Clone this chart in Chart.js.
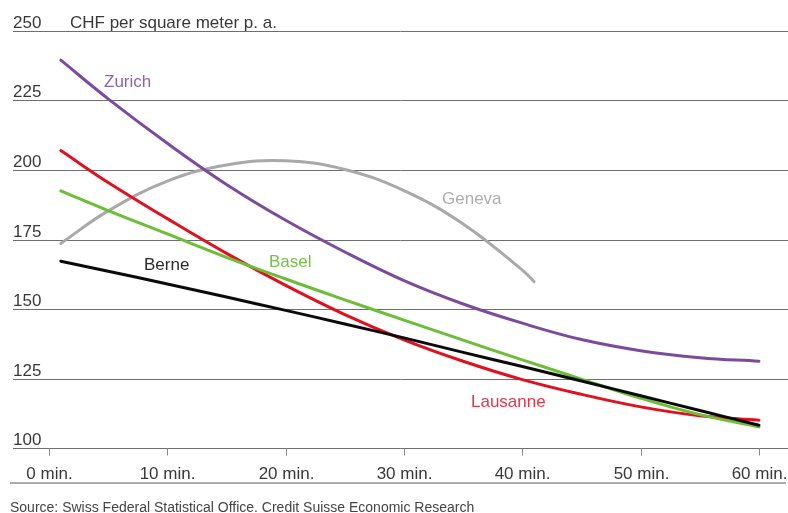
<!DOCTYPE html>
<html>
<head>
<meta charset="utf-8">
<title>Office rents by travel time</title>
<script src="https://cdn.jsdelivr.net/npm/chart.js@4/dist/chart.umd.min.js"></script>
<style>
  html, body { margin: 0; padding: 0; background: #fff; }
  #wrap { width: 788px; height: 513px; }
</style>
</head>
<body>
<div id="wrap"><canvas id="c" width="788" height="513"></canvas></div>
<script>
// Travel time in minutes
const minutes = [1, 5, 10, 15, 20, 25, 30, 35, 40, 45, 50, 55, 60];
const genevaMinutes = [1, 5, 10, 15, 20, 25, 30, 35, 40, 41];

// Rent, CHF per square meter p.a.
const zurich   = [239.5, 225.6, 209.6, 194.8, 181.9, 170.5, 160.2, 151.8, 144.9, 139.0, 135.0, 132.5, 131.2];
const lausanne = [207.0, 195.5, 182.5, 170.0, 158.5, 148.0, 138.9, 131.2, 124.6, 119.3, 114.8, 111.6, 110.0];
const basel    = [192.5, 185.4, 177.0, 168.6, 160.8, 153.3, 146.0, 138.8, 131.7, 124.8, 117.9, 112.0, 107.6];
const berne    = [167.2, 163.6, 159.0, 154.3, 149.5, 144.6, 139.6, 134.4, 129.3, 124.1, 118.8, 113.5, 108.2];
const geneva   = [173.6, 185.3, 196.0, 201.8, 203.3, 200.2, 192.6, 180.6, 164.0, 159.8];

const cityNames = ['Zurich', 'Geneva', 'Basel', 'Berne', 'Lausanne'];
const yTicks = [100, 125, 150, 175, 200, 225, 250];
const xTicks = [0, 10, 20, 30, 40, 50, 60];
const xTickLabels = ['0 min.', '10 min.', '20 min.', '30 min.', '40 min.', '50 min.', '60 min.'];
const unitTitle = 'CHF per square meter p. a.';
const sourceNote = 'Source: Swiss Federal Statistical Office. Credit Suisse Economic Research';

const FONT = '"Liberation Sans", Arial, sans-serif';

function pts(xs, ys) { return xs.map((x, i) => ({ x: x, y: ys[i] })); }

const lineStyle = {
  borderWidth: 3,
  pointRadius: 0,
  pointHoverRadius: 0,
  tension: 0.4,
  borderCapStyle: 'round',
  borderJoinStyle: 'round',
  fill: false
};

// Series name placement and colour
const nameStyles = [
  { text: cityNames[0], x: 104, y: 87,    color: '#8c63ac' },
  { text: cityNames[1], x: 442, y: 203.5, color: '#adadad' },
  { text: cityNames[2], x: 269, y: 266.5, color: '#74c044' },
  { text: cityNames[3], x: 144, y: 270,   color: '#2a2a2a' },
  { text: cityNames[4], x: 471, y: 406.5, color: '#e2364a' }
];

const framePlugin = {
  id: 'frame',
  beforeDatasetsDraw(chart) {
    const ctx = chart.ctx;
    const xs = chart.scales.x, ys = chart.scales.y;
    ctx.save();
    // horizontal rules with value labels above them
    ctx.font = '17px ' + FONT;
    ctx.textBaseline = 'alphabetic';
    ctx.textAlign = 'left';
    yTicks.forEach(v => {
      const y = Math.round(ys.getPixelForValue(v)) + 0.5;
      ctx.strokeStyle = '#6e6e6e';
      ctx.lineWidth = 1;
      ctx.beginPath();
      ctx.moveTo(13, y);
      ctx.lineTo(788, y);
      ctx.stroke();
      ctx.fillStyle = '#383838';
      ctx.fillText(String(v), 13, y - 3.5);
    });
    const yTop = Math.round(ys.getPixelForValue(250)) + 0.5;
    ctx.fillText(unitTitle, 70, yTop - 3.5);

    // x ticks and labels
    const yBase = Math.round(ys.getPixelForValue(100)) + 0.5;
    ctx.strokeStyle = '#8a8a8a';
    ctx.textAlign = 'center';
    xTicks.forEach((m, i) => {
      const x = Math.round(xs.getPixelForValue(m)) + 0.5;
      ctx.beginPath();
      ctx.moveTo(x, yBase);
      ctx.lineTo(x, yBase + 7);
      ctx.stroke();
      ctx.fillStyle = '#383838';
      ctx.fillText(xTickLabels[i], x, 478.5);
    });

    // bottom rule
    ctx.strokeStyle = '#ababab';
    ctx.lineWidth = 2;
    ctx.beginPath();
    ctx.moveTo(10, 483);
    ctx.lineTo(786, 483);
    ctx.stroke();

    // source note
    ctx.font = '14px ' + FONT;
    ctx.textAlign = 'left';
    ctx.fillStyle = '#444';
    ctx.fillText(sourceNote, 10, 512);
    ctx.restore();
  },
  afterDatasetsDraw(chart) {
    const ctx = chart.ctx;
    ctx.save();
    ctx.font = '17px ' + FONT;
    ctx.textAlign = 'left';
    ctx.textBaseline = 'alphabetic';
    nameStyles.forEach(n => {
      ctx.fillStyle = n.color;
      ctx.fillText(n.text, n.x, n.y);
    });
    ctx.restore();
  }
};

new Chart(document.getElementById('c'), {
  type: 'line',
  data: {
    datasets: [
      Object.assign({ label: cityNames[3], data: pts(minutes, berne),    borderColor: '#0a0a0a', order: 0 }, lineStyle),
      Object.assign({ label: cityNames[0], data: pts(minutes, zurich),   borderColor: '#7b4b9c', order: 1 }, lineStyle),
      Object.assign({ label: cityNames[2], data: pts(minutes, basel),    borderColor: '#6cbd38', order: 2 }, lineStyle),
      Object.assign({ label: cityNames[4], data: pts(minutes, lausanne), borderColor: '#e0101f', order: 3 }, lineStyle),
      Object.assign({ label: cityNames[1], data: pts(genevaMinutes, geneva), borderColor: '#a9a9a9', order: 4 }, lineStyle)
    ]
  },
  options: {
    responsive: false,
    animation: false,
    events: [],
    layout: { padding: { left: 49, right: 29, top: 31, bottom: 65 } },
    plugins: {
      legend: { display: false },
      tooltip: { enabled: false }
    },
    scales: {
      x: { type: 'linear', min: 0, max: 60, display: false },
      y: { type: 'linear', min: 100, max: 250, display: false }
    },
    clip: false
  },
  plugins: [framePlugin]
});
</script>
</body>
</html>
